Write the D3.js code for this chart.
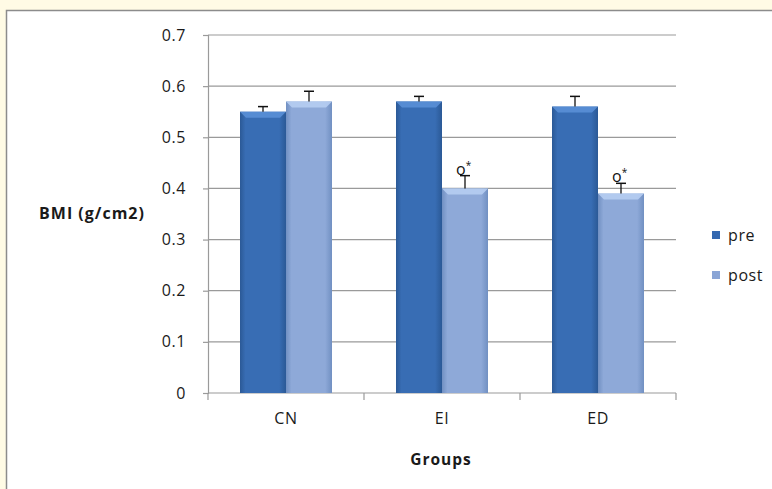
<!DOCTYPE html>
<html><head><meta charset="utf-8">
<script src="https://cdn.jsdelivr.net/npm/d3@7"></script>
<style>
html,body{margin:0;padding:0;background:#fffbe5;}
svg{display:block;}
</style></head>
<body>
<svg id="c" width="772" height="489"></svg>
<script>
const categories = ["CN", "EI", "ED"];
const seriesNames = ["pre", "post"];
const preValues = [0.55, 0.57, 0.56];
const postValues = [0.57, 0.40, 0.39];
const preErrors = [0.01, 0.01, 0.02];
const postErrors = [0.02, 0.025, 0.02];
const postMarks = ["", "o*", "o*"];
const yTicks = [0, 0.1, 0.2, 0.3, 0.4, 0.5, 0.6, 0.7];

const svg = d3.select("#c");
const font = "'Open Sans', sans-serif";

// panel
svg.append("rect").attr("x",6.5).attr("y",10.5).attr("width",800).attr("height",500)
  .attr("fill","#fff").attr("stroke","#8c8c8c").attr("stroke-width",1.5);

const defs = svg.append("defs");
function grad(id, edge, mid){
  const g = defs.append("linearGradient").attr("id",id).attr("x1","0").attr("x2","1").attr("y1","0").attr("y2","0");
  g.append("stop").attr("offset","0").attr("stop-color",edge);
  g.append("stop").attr("offset","0.12").attr("stop-color",mid);
  g.append("stop").attr("offset","0.85").attr("stop-color",mid);
  g.append("stop").attr("offset","1").attr("stop-color",edge);
}
grad("gpre","#2b5996","#386db4");
grad("gpost","#7190c2","#8ea9d8");
const colors = {pre:{fill:"url(#gpre)", top:"#5a8fd6", leg:"#3468b0"}, post:{fill:"url(#gpost)", top:"#b6cdf2", leg:"#8aa5d6"}};

const x0 = d3.scaleBand().domain(categories).range([208,676]).paddingInner(0).paddingOuter(0);
const x1 = d3.scaleBand().domain(seriesNames).range([32, 156-32]);
const y = d3.scaleLinear().domain([0,0.7]).range([393,35]);

// grid
svg.append("g").selectAll("line").data(yTicks.slice(1)).join("line")
  .attr("x1",208).attr("x2",676).attr("y1",d=>y(d)).attr("y2",d=>y(d))
  .attr("stroke","#9a9a9a").attr("stroke-width",1.2);

// y axis
const ya = svg.append("g").attr("transform","translate(208,0)")
  .call(d3.axisLeft(y).tickValues(yTicks).tickSize(5).tickPadding(22).tickFormat(d=> d===0 ? "0" : d3.format(".1f")(d)));
ya.select(".domain").attr("stroke","#9a9a9a").attr("stroke-width",1.2);
ya.selectAll(".tick line").attr("stroke","#9a9a9a").attr("stroke-width",1.2);
ya.selectAll("text").attr("font-family",font).attr("font-size",16).attr("letter-spacing",0.6).attr("fill","#1a1a1a")
  .attr("text-anchor","end").attr("x",-22);

// x axis
const xa = svg.append("g").attr("transform","translate(0,393)")
  .call(d3.axisBottom(x0).tickSize(0).tickPadding(20));
xa.select(".domain").remove();
xa.selectAll("text").attr("font-family",font).attr("font-size",16).attr("letter-spacing",0.6).attr("fill","#1a1a1a");
svg.append("line").attr("x1",208).attr("x2",676).attr("y1",393).attr("y2",393).attr("stroke","#9a9a9a").attr("stroke-width",1.2);
const bounds = categories.map(c=>x0(c)).concat([x0(categories[categories.length-1])+x0.bandwidth()]);
svg.append("g").selectAll("line").data(bounds).join("line")
  .attr("x1",d=>d).attr("x2",d=>d).attr("y1",393).attr("y2",400)
  .attr("stroke","#9a9a9a").attr("stroke-width",1.2);

// bars
const data = [];
categories.forEach((c,i)=>{
  data.push({c, s:"pre", v:preValues[i], e:preErrors[i], m:""});
  data.push({c, s:"post", v:postValues[i], e:postErrors[i], m:postMarks[i]});
});
const bw = x1.bandwidth();
const bars = svg.append("g").selectAll("g").data(data).join("g")
  .attr("transform",d=>`translate(${x0(d.c)+x1(d.s)},0)`);
bars.append("rect").attr("x",0).attr("width",bw).attr("y",d=>y(d.v)).attr("height",d=>393-y(d.v))
  .attr("fill",d=>colors[d.s].fill);
bars.append("path").attr("d",d=>{const t=y(d.v); return `M0,${t}L${bw},${t}L${bw-6},${t+6}L6,${t+6}Z`;})
  .attr("fill",d=>colors[d.s].top).attr("opacity",0.9);
// error bars
bars.append("line").attr("x1",bw/2).attr("x2",bw/2).attr("y1",d=>y(d.v)).attr("y2",d=>y(d.v+d.e))
  .attr("stroke","#111").attr("stroke-width",1.3);
bars.append("line").attr("x1",bw/2-5).attr("x2",bw/2+5).attr("y1",d=>y(d.v+d.e)).attr("y2",d=>y(d.v+d.e))
  .attr("stroke","#111").attr("stroke-width",1.5);
// marks
const mk = bars.filter(d=>d.m).append("text").attr("x",bw/2-9).attr("y",d=>y(d.v+d.e)-1)
  .attr("font-family",font).attr("font-size",16).attr("fill","#111");
mk.append("tspan").text(d=>d.m[0]);
mk.append("tspan").attr("font-size",10).attr("dy",-6).text(d=>d.m.slice(1));

// axis titles
svg.append("text").attr("x",92).attr("y",219).attr("text-anchor","middle")
  .attr("font-family",font).attr("font-size",16).attr("letter-spacing",1).attr("font-weight","bold").attr("fill","#1a1a1a").text("BMI  (g/cm2)");
svg.append("text").attr("x",441).attr("y",465).attr("text-anchor","middle")
  .attr("font-family",font).attr("font-size",15.5).attr("letter-spacing",1).attr("font-weight","bold").attr("fill","#1a1a1a").text("Groups");

// legend
const lg = svg.append("g").selectAll("g").data(seriesNames).join("g")
  .attr("transform",(d,i)=>`translate(712,${231+i*40})`);
lg.append("rect").attr("width",8).attr("height",8).attr("fill",d=>colors[d].leg);
lg.append("text").attr("x",16).attr("y",10).attr("font-family",font).attr("font-size",16).attr("letter-spacing",0.6).attr("fill","#1a1a1a").text(d=>d);
</script>
</body></html>
